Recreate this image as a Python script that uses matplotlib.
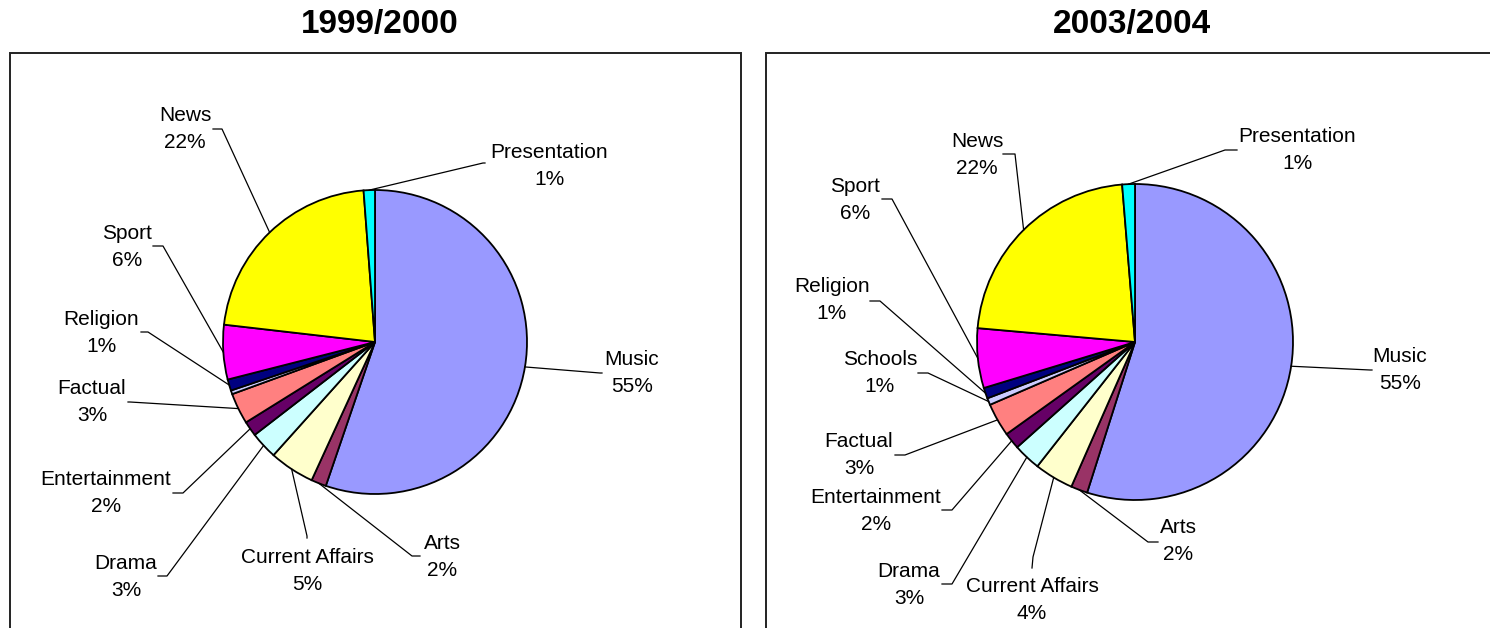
import matplotlib.pyplot as plt
import matplotlib.patches as patches
import numpy as np

plt.rcParams['font.family'] = ['Liberation Sans', 'DejaVu Sans']

categories = ['Music', 'Arts', 'Current Affairs', 'Drama', 'Entertainment', 'Factual',
              'Schools', 'Religion', 'Sport', 'News', 'Presentation']
share_1999 = [55.3, 1.6, 4.8, 2.9, 1.6, 3.3, 0.4, 1.2, 5.8, 22.0, 1.2]
share_2003 = [54.9, 1.7, 4.0, 2.8, 1.7, 3.4, 0.7, 1.1, 6.1, 22.3, 1.3]
titles = ['1999/2000', '2003/2004']
colors = ['#9999FF', '#993366', '#FFFFCC', '#CCFFFF', '#660066', '#FF8080',
          '#CCCCFF', '#000080', '#FF00FF', '#FFFF00', '#00FFFF']

W, H = 1490, 628

# layout in pixel coords (y from top): label centre, leader start, leader elbow
layout_1999 = {
    'Music': ((632, 373), (602, 373), (600, 373)),
    'Arts': ((442, 557), (420, 556), (412, 556)),
    'Current Affairs': ((307, 571), (307, 538), (307, 536)),
    'Drama': ((126, 577), (158, 576), (167, 576)),
    'Entertainment': ((106, 493), (173, 493), (183, 493)),
    'Factual': ((92, 402), (128, 402), (130, 402)),
    'Religion': ((101, 333), (141, 332), (148, 332)),
    'Sport': ((127, 247), (153, 246), (163, 246)),
    'News': ((185, 129), (213, 129), (222, 129)),
    'Presentation': ((549, 166), (485, 163), (483, 163)),
}
layout_2003 = {
    'Music': ((1400, 370), (1372, 370), (1370, 370)),
    'Arts': ((1178, 541), (1158, 542), (1148, 542)),
    'Current Affairs': ((1032, 600), (1032, 568), (1033, 557)),
    'Drama': ((909, 585), (942, 584), (952, 584)),
    'Entertainment': ((876, 511), (942, 510), (952, 510)),
    'Factual': ((859, 455), (895, 455), (905, 455)),
    'Schools': ((880, 373), (918, 373), (928, 373)),
    'Religion': ((832, 300), (870, 301), (880, 301)),
    'Sport': ((855, 200), (882, 199), (892, 199)),
    'News': ((977, 155), (1003, 154), (1015, 154)),
    'Presentation': ((1297, 150), (1237, 150), (1225, 150)),
}

fig = plt.figure(figsize=(W / 100, H / 100), dpi=100)
ax = fig.add_axes([0, 0, 1, 1])


def draw_pie(shares, centre, radius, layout, title, box, title_x):
    cx, cy = centre[0], H - centre[1]
    wedges, _ = ax.pie(shares, colors=colors, center=(cx, cy), radius=radius,
                       startangle=90, counterclock=False,
                       wedgeprops=dict(edgecolor='black', linewidth=1.3))
    for w, name, v in zip(wedges, categories, shares):
        if name not in layout:
            continue
        (tx, ty), (sx, sy), (ex, ey) = layout[name]
        mid = np.deg2rad((w.theta1 + w.theta2) / 2)
        px = cx + radius * np.cos(mid)
        py = cy + radius * np.sin(mid)
        ax.plot([sx, ex, px], [H - sy, H - ey, py], color='black', lw=0.9)
        ax.text(tx, H - ty, f'{name}\n{round(v)}%', ha='center', va='center',
                fontsize=15, linespacing=1.52)
    x0, x1 = box
    ax.add_patch(patches.Rectangle((x0, -10), x1 - x0, H - 53 + 10, fill=False,
                                   edgecolor='#222222', lw=1.4))
    ax.text(title_x, H - 25, title, ha='center', va='center', fontsize=24,
            fontweight='bold')


draw_pie(share_1999, (375, 342), 152, layout_1999, titles[0], (10, 741), 380)
draw_pie(share_2003, (1135, 342), 158, layout_2003, titles[1], (766, 1500), 1132)

ax.set_xlim(0, W)
ax.set_ylim(0, H)
ax.set_aspect('auto')
ax.axis('off')

fig.savefig('out.png', dpi=100)
